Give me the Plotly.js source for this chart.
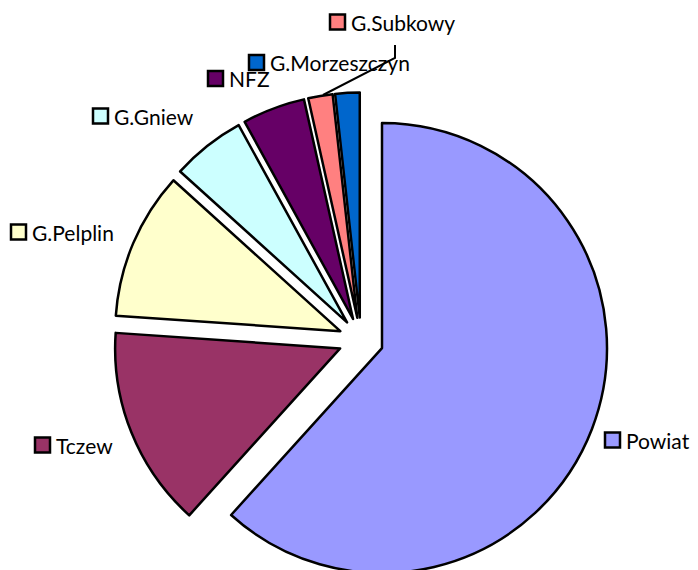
<!DOCTYPE html>
<html>
<head>
<meta charset="utf-8">
<script src="https://cdn.plot.ly/plotly-3.0.1.min.js"></script>
<style>
html, body { margin: 0; padding: 0; overflow: hidden; background: #fff; }
#chart { width: 698px; height: 620px; }
</style>
</head>
<body>
<div id="chart"></div>
<script>
// Data
var labels = ["Powiat", "Tczew", "G.Pelplin", "G.Gniew", "NFZ", "G.Subkowy", "G.Morzeszczyn"];
var values = [61.7, 14.4, 10.6, 5.3, 4.5, 1.75, 1.75];
var colors = ["#9999FF", "#993366", "#FFFFCC", "#CCFFFF", "#660066", "#FF8080", "#0066CC"];

// Layout helpers (pixel -> paper)
var W = 698, H = 620;
function px(x) { return x / W; }
function py(y) { return 1 - y / H; }

// Label key positions in pixels: [squareLeft, centerY]
var labelPos = [
  [605, 440],
  [35, 445],
  [11, 232],
  [93, 116],
  [208, 78.5],
  [330, 22],
  [249, 62.5]
];
var keySize = 15;

var shapes = [];
var annotations = [];
for (var i = 0; i < labels.length; i++) {
  var lx = labelPos[i][0], cy = labelPos[i][1];
  shapes.push({
    type: "rect", xref: "paper", yref: "paper",
    x0: px(lx), x1: px(lx + keySize),
    y0: py(cy + keySize / 2), y1: py(cy - keySize / 2),
    fillcolor: colors[i], line: { color: "#000", width: 2.5 }
  });
  annotations.push({
    xref: "paper", yref: "paper",
    x: px(lx + keySize + 4), y: py(cy),
    xanchor: "left", yanchor: "middle",
    text: labels[i], showarrow: false,
    font: { family: "Lato, 'Open Sans', sans-serif", size: 21, color: "#000" }
  });
}
// leader line for G.Subkowy
shapes.push({
  type: "path", xref: "paper", yref: "paper",
  path: "M " + px(395) + " " + py(45) + " L " + px(395) + " " + py(58) + " L " + px(323) + " " + py(95),
  line: { color: "#000", width: 2 }
});

var trace = {
  type: "pie",
  labels: labels,
  values: values,
  sort: false,
  direction: "clockwise",
  rotation: 0,
  pull: 0.1,
  marker: { colors: colors, line: { color: "#000", width: 2.5 } },
  textinfo: "none",
  hoverinfo: "none",
  showlegend: false,
  domain: { x: [113.5 / W, 608.5 / W], y: [1 - 587.5 / H, 1 - 92.5 / H] }
};

var layout = {
  width: W, height: H,
  margin: { l: 0, r: 0, t: 0, b: 0 },
  paper_bgcolor: "#fff",
  showlegend: false,
  shapes: shapes,
  annotations: annotations
};

Plotly.newPlot("chart", [trace], layout, { staticPlot: true, displayModeBar: false });
</script>
</body>
</html>
